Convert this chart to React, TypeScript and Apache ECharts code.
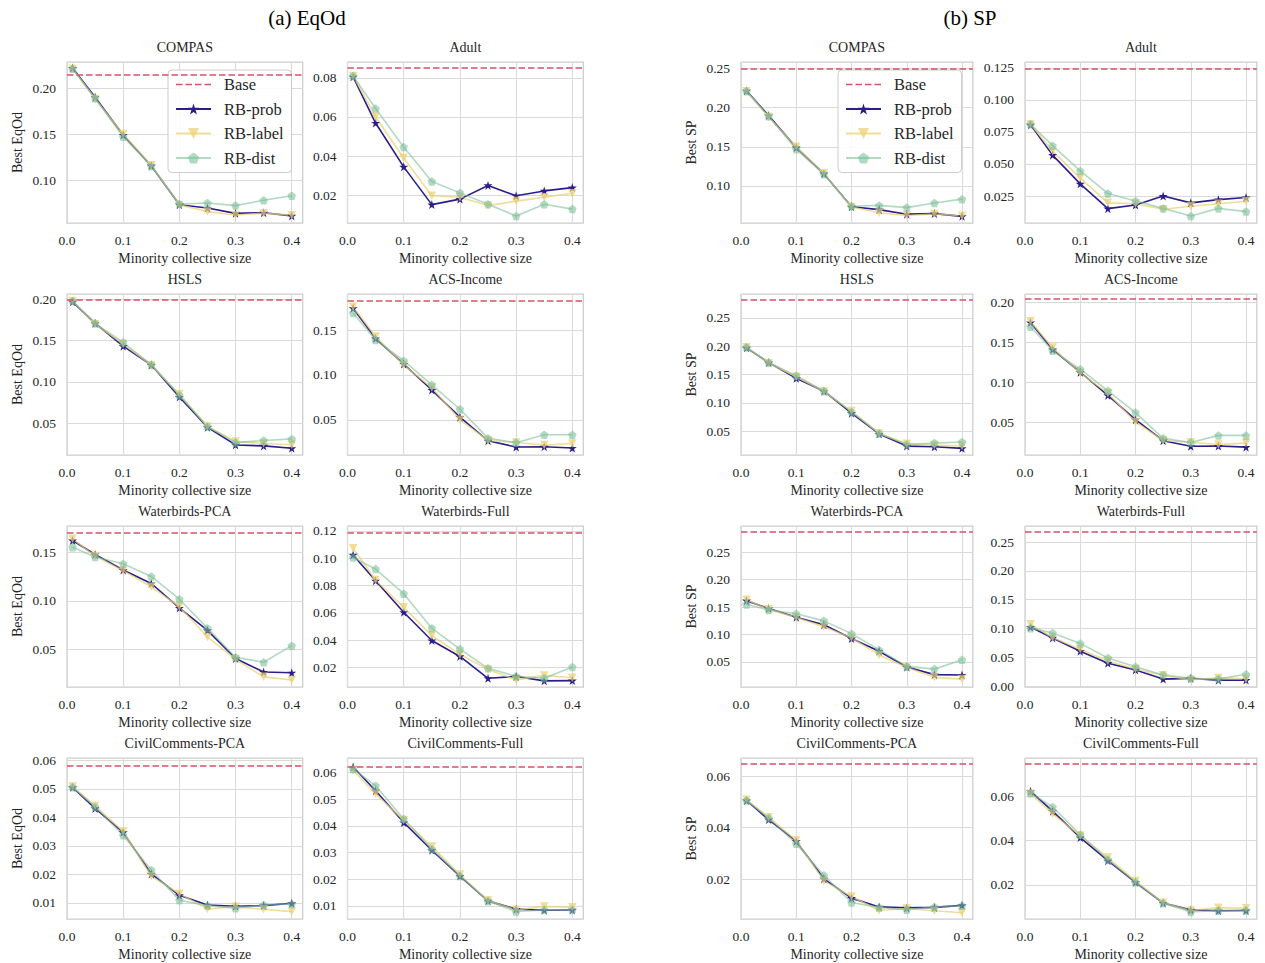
import React, { useEffect, useRef } from "react";
import * as echarts from "echarts";

// ---------------- data ----------------
const X_VALUES = [0.01, 0.05, 0.1, 0.15, 0.2, 0.25, 0.3, 0.35, 0.4];
const X_TICKS = ["0.0", "0.1", "0.2", "0.3", "0.4"];
const X_MIN = 0;
const X_MAX = 0.4195;

const DATASETS = [
  "COMPAS",
  "Adult",
  "HSLS",
  "ACS-Income",
  "Waterbirds-PCA",
  "Waterbirds-Full",
  "CivilComments-PCA",
  "CivilComments-Full",
];
const METRICS = ["EqOd", "SP"];
const SUPTITLES = ["(a) EqOd", "(b) SP"];
const METHODS = ["RB-prob", "RB-label", "RB-dist"];

const compasProb = [0.2217, 0.19, 0.149, 0.1156, 0.0732, 0.0696, 0.0638, 0.0645, 0.061];
const compasLabel = [0.221, 0.188, 0.15, 0.116, 0.073, 0.0657, 0.062, 0.064, 0.0617];
const compasDist = [0.221, 0.189, 0.147, 0.115, 0.074, 0.075, 0.0722, 0.078, 0.083];

const adultProb = [0.0805, 0.0569, 0.0345, 0.0152, 0.018, 0.025, 0.0197, 0.0222, 0.0239];
const adultLabel = [0.081, 0.06, 0.039, 0.0197, 0.019, 0.0147, 0.017, 0.019, 0.021];
const adultDist = [0.081, 0.0643, 0.0446, 0.027, 0.0212, 0.0154, 0.0094, 0.0154, 0.0129];

const hslsProb = [0.197, 0.171, 0.1433, 0.1205, 0.0818, 0.0451, 0.0237, 0.0225, 0.0197];
const hslsLabel = [0.198, 0.17, 0.146, 0.12, 0.0854, 0.046, 0.028, 0.0255, 0.024];
const hslsDist = [0.198, 0.171, 0.148, 0.121, 0.084, 0.046, 0.0265, 0.029, 0.031];

const acsProb = [0.1744, 0.1407, 0.1122, 0.0833, 0.053, 0.0267, 0.0197, 0.02, 0.0186];
const acsLabel = [0.176, 0.143, 0.111, 0.086, 0.05, 0.027, 0.0248, 0.022, 0.0237];
const acsDist = [0.169, 0.139, 0.116, 0.089, 0.0618, 0.0296, 0.0245, 0.0333, 0.0333];

const wbPcaProb = [0.1619, 0.1476, 0.1317, 0.1178, 0.0927, 0.0697, 0.0408, 0.027, 0.0262];
const wbPcaLabel = [0.1636, 0.146, 0.131, 0.1144, 0.094, 0.0629, 0.04, 0.022, 0.0188];
const wbPcaDist = [0.155, 0.145, 0.138, 0.125, 0.1017, 0.072, 0.042, 0.037, 0.054];

const wbFullProb = [0.1024, 0.0835, 0.0604, 0.0397, 0.028, 0.012, 0.0133, 0.0101, 0.0103];
const wbFullLabel = [0.1073, 0.084, 0.064, 0.0433, 0.0295, 0.0185, 0.0108, 0.0141, 0.0124];
const wbFullDist = [0.1005, 0.092, 0.074, 0.0487, 0.0334, 0.0193, 0.0134, 0.012, 0.0203];

const ccPcaProb = [0.0505, 0.0431, 0.0347, 0.0201, 0.0126, 0.0092, 0.0088, 0.009, 0.0098];
const ccPcaLabel = [0.0508, 0.044, 0.035, 0.0193, 0.0132, 0.0078, 0.0086, 0.0077, 0.0069];
const ccPcaDist = [0.0505, 0.0437, 0.0337, 0.0215, 0.0109, 0.009, 0.0081, 0.0092, 0.0096];

const ccFullProb = [0.0621, 0.0532, 0.0413, 0.0309, 0.0212, 0.0119, 0.0088, 0.0084, 0.0085];
const ccFullLabel = [0.061, 0.052, 0.0422, 0.0323, 0.0218, 0.012, 0.0085, 0.0098, 0.0095];
const ccFullDist = [0.0613, 0.0551, 0.0426, 0.0314, 0.0212, 0.0118, 0.0079, 0.0085, 0.0085];

// the SP panels in the picture show the same curves as the EqOd panels
const SERIES_BY_DATASET = [
  [compasProb, compasLabel, compasDist],
  [adultProb, adultLabel, adultDist],
  [hslsProb, hslsLabel, hslsDist],
  [acsProb, acsLabel, acsDist],
  [wbPcaProb, wbPcaLabel, wbPcaDist],
  [wbFullProb, wbFullLabel, wbFullDist],
  [ccPcaProb, ccPcaLabel, ccPcaDist],
  [ccFullProb, ccFullLabel, ccFullDist],
];

const eqodBase = [0.214, 0.0851, 0.199, 0.1826, 0.1697, 0.1183, 0.058, 0.0623];
const spBase = [0.25, 0.1245, 0.2813, 0.2038, 0.2872, 0.2674, 0.0647, 0.0744];

const eqodYMin = [0.0533, 0.0058, 0.0115, 0.0108, 0.0116, 0.0056, 0.0043, 0.0051];
const eqodYMax = [0.2283, 0.0881, 0.2065, 0.1903, 0.1768, 0.1236, 0.0608, 0.0655];
const spYMin = [0.0525, 0.004, 0.008, 0.0088, 0.0044, -0.0017, 0.0045, 0.0047];
const spYMax = [0.2585, 0.1295, 0.292, 0.21, 0.298, 0.2778, 0.067, 0.0771];

const eqodTicks = [
  ["0.10", "0.15", "0.20"],
  ["0.02", "0.04", "0.06", "0.08"],
  ["0.05", "0.10", "0.15", "0.20"],
  ["0.05", "0.10", "0.15"],
  ["0.05", "0.10", "0.15"],
  ["0.02", "0.04", "0.06", "0.08", "0.10", "0.12"],
  ["0.01", "0.02", "0.03", "0.04", "0.05", "0.06"],
  ["0.01", "0.02", "0.03", "0.04", "0.05", "0.06"],
];
const spTicks = [
  ["0.10", "0.15", "0.20", "0.25"],
  ["0.025", "0.050", "0.075", "0.100", "0.125"],
  ["0.05", "0.10", "0.15", "0.20", "0.25"],
  ["0.05", "0.10", "0.15", "0.20"],
  ["0.05", "0.10", "0.15", "0.20", "0.25", "0.30"],
  ["0.00", "0.05", "0.10", "0.15", "0.20", "0.25"],
  ["0.02", "0.04", "0.06"],
  ["0.02", "0.04", "0.06"],
];

// ---------------- style / layout ----------------
const FONT = "'Liberation Serif', 'Times New Roman', serif";
const TEXT = "#262626";
const COL_LEFT = [67, 347.5, 741, 1025];
const COL_WIDTH = [235.7, 235.8, 231.8, 231.8];
const ROW_TOP = [62, 294, 526, 758];
const ROW_HEIGHT = 161;
const SUPTITLE_X = [307, 970];

const BASE_COLOR = "#d35468";
const DASH_ICON =
  "path://M0,0H6.5V1.5H0Z M9.5,0H16V1.5H9.5Z M19,0H25.5V1.5H19Z M28.5,0H35V1.5H28.5Z";
const STAR =
  "path://M50,0 L61.2,34.5 L97.6,34.5 L68.2,55.9 L79.4,90.5 L50,69.1 L20.6,90.5 L31.8,55.9 L2.4,34.5 L38.8,34.5 Z";
const PENTAGON = "path://M50,0 L97.6,34.5 L79.4,90.5 L20.6,90.5 L2.4,34.5 Z";
const METHOD_STYLE = [
  { color: "#2b1e8c", symbol: STAR, size: 9, rotate: 0 },
  { color: "rgba(234, 208, 112, 0.72)", symbol: "triangle", size: 8.5, rotate: 180 },
  { color: "rgba(122, 190, 150, 0.58)", symbol: PENTAGON, size: 8.5, rotate: 0 },
];

function formatTick(ticks: string[]) {
  return (v: number) => {
    const hit = ticks.find((t) => Math.abs(parseFloat(t) - v) < 1e-9);
    return hit !== undefined ? hit : String(v);
  };
}

function buildOption() {
  const grid: any[] = [];
  const xAxis: any[] = [];
  const yAxis: any[] = [];
  const series: any[] = [];
  const graphic: any[] = [];

  SUPTITLES.forEach((t, m) => {
    graphic.push({
      type: "text",
      x: SUPTITLE_X[m],
      y: 18,
      style: { text: t, fontSize: 21, fontFamily: FONT, fill: "#000", align: "center", verticalAlign: "middle" },
    });
  });

  let p = 0;
  METRICS.forEach((metric, m) => {
    const bases = m === 0 ? eqodBase : spBase;
    const yMin = m === 0 ? eqodYMin : spYMin;
    const yMax = m === 0 ? eqodYMax : spYMax;
    const ticks = m === 0 ? eqodTicks : spTicks;
    DATASETS.forEach((ds, d) => {
      const col = m * 2 + (d % 2);
      const row = Math.floor(d / 2);
      const left = COL_LEFT[col];
      const top = ROW_TOP[row];
      const width = COL_WIDTH[col];
      grid.push({
        left,
        top,
        width,
        height: ROW_HEIGHT,
        show: true,
        borderColor: "#cccccc",
        borderWidth: 1.25,
        backgroundColor: "transparent",
        containLabel: false,
      });
      graphic.push({
        type: "text",
        x: left + width / 2,
        y: top - 15,
        style: { text: ds, fontSize: 14, fontFamily: FONT, fill: TEXT, align: "center", verticalAlign: "middle" },
      });
      const xTickNums = X_TICKS.map(Number);
      xAxis.push({
        gridIndex: p,
        type: "value",
        min: X_MIN,
        max: X_MAX,
        axisLine: { show: false },
        axisTick: { show: false, customValues: xTickNums },
        axisLabel: {
          customValues: xTickNums,
          formatter: formatTick(X_TICKS),
          margin: 10,
          fontSize: 13.5,
          fontFamily: FONT,
          color: TEXT,
        },
        splitLine: { show: true, lineStyle: { color: "#dadada", width: 1.1 } },
        name: "Minority collective size",
        nameLocation: "middle",
        nameGap: 28,
        nameTextStyle: { fontSize: 14, fontFamily: FONT, color: TEXT },
      });
      const yTickNums = ticks[d].map(Number);
      yAxis.push({
        gridIndex: p,
        type: "value",
        min: yMin[d],
        max: yMax[d],
        axisLine: { show: false },
        axisTick: { show: false, customValues: yTickNums },
        axisLabel: {
          customValues: yTickNums,
          formatter: formatTick(ticks[d]),
          margin: 11,
          fontSize: 13.5,
          fontFamily: FONT,
          color: TEXT,
        },
        splitLine: { show: true, lineStyle: { color: "#dadada", width: 1.1 } },
        name: d % 2 === 0 ? "Best " + metric : "",
        nameLocation: "middle",
        nameGap: 43,
        nameTextStyle: { fontSize: 14, fontFamily: FONT, color: TEXT },
      });

      series.push({
        type: "line",
        name: "Base",
        xAxisIndex: p,
        yAxisIndex: p,
        data: [],
        symbol: "none",
        lineStyle: { color: BASE_COLOR, type: [6.5, 3], width: 1.5 },
        itemStyle: { color: BASE_COLOR },
        markLine: {
          silent: true,
          precision: 6,
          symbol: ["none", "none"],
          label: { show: false },
          lineStyle: { color: BASE_COLOR, type: [6.5, 3], width: 1.5 },
          emphasis: { disabled: true },
          data: [{ yAxis: bases[d] }],
        },
      });

      METHODS.forEach((name, k) => {
        const st = METHOD_STYLE[k];
        const vals = SERIES_BY_DATASET[d][k];
        series.push({
          type: "line",
          name,
          xAxisIndex: p,
          yAxisIndex: p,
          data: X_VALUES.map((x, i) => [x, vals[i]]),
          symbol: st.symbol,
          symbolSize: st.size,
          symbolRotate: st.rotate,
          showSymbol: true,
          lineStyle: { color: st.color, width: 1.6 },
          itemStyle: { color: st.color, borderWidth: 0 },
          emphasis: { disabled: true },
        });
      });
      p++;
    });
  });

  const legendBase = {
    orient: "vertical",
    top: 70,
    data: [{ name: "Base", icon: DASH_ICON }, ...METHODS.map((n) => ({ name: n }))],
    itemWidth: 35,
    itemHeight: 14,
    itemGap: 7.5,
    padding: [6, 8, 6, 7],
    borderColor: "#cccccc",
    borderWidth: 1,
    borderRadius: 4,
    backgroundColor: "rgba(255,255,255,0.85)",
    textStyle: { fontSize: 16.5, fontFamily: FONT, color: TEXT, padding: [0, 0, 0, 8] },
    selectedMode: false,
  };

  return {
    animation: false,
    backgroundColor: "#ffffff",
    grid,
    xAxis,
    yAxis,
    series,
    graphic,
    legend: [
      { ...legendBase, left: 168 },
      { ...legendBase, left: 838 },
    ],
  };
}

export default function App() {
  const ref = useRef<HTMLDivElement>(null);
  useEffect(() => {
    const chart = echarts.init(ref.current!, null, { renderer: "svg" });
    chart.setOption(buildOption() as any);
    return () => chart.dispose();
  }, []);
  return (
    <div
      ref={ref}
      style={{ position: "fixed", left: 0, top: 0, width: 1265, height: 963, background: "#fff" }}
    />
  );
}
